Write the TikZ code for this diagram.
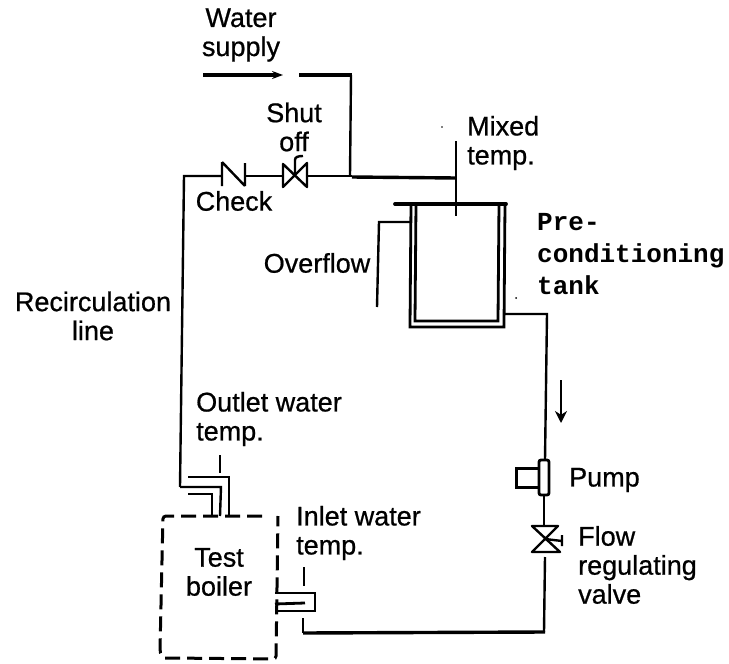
\documentclass[tikz,border=0pt]{standalone}
\usepackage{fontspec}
\setmainfont{Liberation Sans}[FakeBold=0.7]
\setmonofont{Liberation Mono}
\usetikzlibrary{arrows.meta}
\tikzset{
  pipe/.style={draw=black,line width=2.4pt,line join=miter},
  thick pipe/.style={draw=black,line width=3.4pt},
  vessel/.style={draw=black,line width=2.8pt},
  boiler line/.style={draw=black,line width=3pt,dash pattern=on 15pt off 7pt},
  lbl/.style={font=\fontsize{27}{29}\selectfont,align=center,inner sep=0pt,text=black},
  lbll/.style={lbl,align=left},
  mono/.style={font=\fontsize{26}{32}\selectfont\ttfamily\bfseries,align=left,inner sep=0pt,text=black},
}
\begin{document}
\begin{tikzpicture}[x=1pt,y=-1pt]
\useasboundingbox (0,0) rectangle (729,664);
% labels
\node[lbl] (water) at (241,35) {Water\\supply};
\node[lbl] (shut) at (294,127) {Shut\\off};
\node[lbl] (check) at (234,201) {Check};
\node[lbl] (overflow) at (317,263) {Overflow};
\node[lbl] (recirc) at (93,316) {Recirculation\\line};
\node[lbll,anchor=west] (mixed) at (467,143) {Mixed\\temp.};
\node[mono,anchor=west] (pre) at (537,254) {Pre-\\conditioning\\tank};
\node[lbll,anchor=west] (outlet) at (196,419) {Outlet water\\temp.};
\node[lbl] (test) at (219,572) {Test\\boiler};
\node[lbll,anchor=west] (inlet) at (296,533) {Inlet water\\temp.};
\node[lbll,anchor=west] (pump) at (569,480) {Pump};
\node[lbll,anchor=west] (flow) at (578,565) {Flow\\regulating\\valve};
% water supply
\draw[thick pipe,-{Stealth[length=11pt,width=8pt]}] (203,75) -- (283,75);
\draw[thick pipe] (299,75) -- (352,75);
\draw[pipe] (351,75) -- (350,176);
% main line with valves
\draw[pipe] (180,487) -- (184,176) -- (222,176);
\draw[pipe] (222,162) -- (222,186) (222,162) -- (245,186) (245,163) -- (245,186);
\draw[pipe] (245,176) -- (282,176);
\draw[pipe,line join=round] (283,164) -- (307,187) -- (307,163) -- (283,187) -- cycle;
\draw[pipe] (295,175) -- (295,160) .. controls (295,157) and (298,156) .. (303,156);
\draw[pipe] (307,176) -- (352,176);
\draw[thick pipe] (352,177) -- (456,178);
% mixed temp sensor
\draw[pipe] (456,141) -- (456,216);
% tank
\draw[thick pipe,line width=3.8pt,line cap=round] (395,204) -- (506,204);
\draw[vessel] (411,204) -- (410,327) -- (504,327) -- (505,204);
\draw[vessel] (416,204) -- (415,321) -- (498,321) -- (499,204);
\draw[pipe] (411,222) -- (379,222) -- (377,307);
\draw[pipe] (505,314) -- (547,314) -- (545,460);
% direction arrow
\draw[pipe,-{Stealth[length=12pt,width=12pt]}] (561,380) -- (561,423);
% pump
\draw[vessel,rounded corners=2pt] (539,460) rectangle (549,495);
\draw[vessel,line width=3pt] (540,468) -- (516,468) -- (516,487) -- (540,487);
\draw[pipe] (544,495) -- (544,526);
% flow valve
\draw[pipe,line join=round] (532,526) -- (558,526) -- (532,552) -- (560,552) -- cycle;
\draw[pipe] (545,539) -- (562,541) (562,535) -- (562,546);
\draw[pipe] (545,557) -- (544,632);
\draw[thick pipe] (545,632) -- (303,633);
\draw[pipe] (303,633) -- (303,618);
% boiler
\draw[boiler line,rounded corners=3pt] (262,516) -- (163,516) -- (160,650) .. controls (161,656) and (163,658) .. (168,658) -- (276,659) -- (278,516);
% outlet connection
\draw[pipe] (180,487) -- (221,487) -- (220,516);
\draw[vessel] (188,477) -- (229,477) -- (229,516);
\draw[vessel] (188,494) -- (212,494) -- (212,516);
\draw[pipe] (220,455) -- (220,473);
% inlet connection
\draw[vessel] (275,593) -- (315,593) -- (315,611) -- (275,611);
\draw[vessel] (275,604) -- (305,603);
\draw[pipe] (304,567) -- (304,586);
% specks
\fill (516,298) circle (1pt) (442,127) circle (.8pt);
\end{tikzpicture}
\end{document}
